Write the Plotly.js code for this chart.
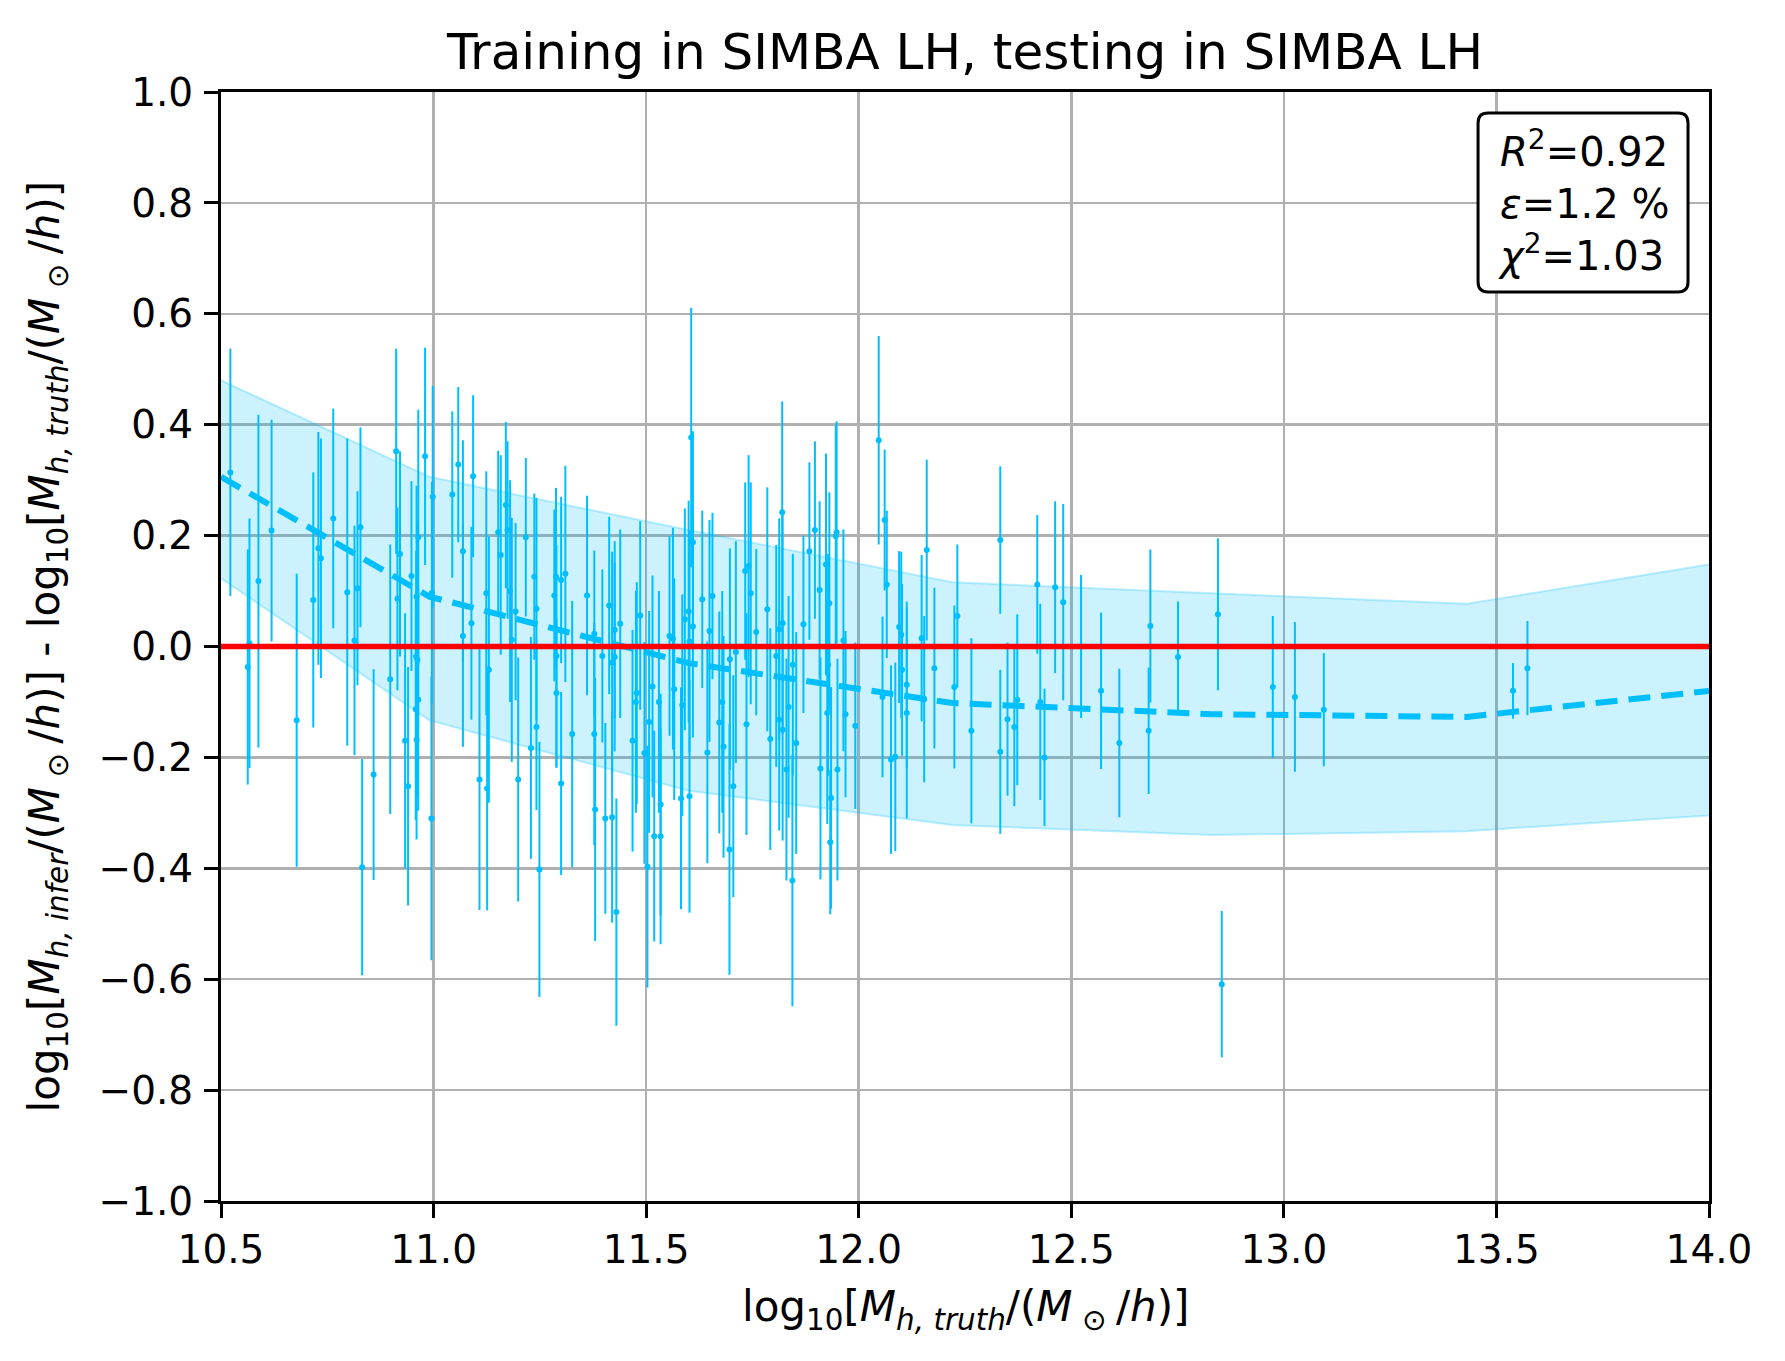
<!DOCTYPE html>
<html>
<head>
<meta charset="utf-8">
<script src="https://cdn.plot.ly/plotly-3.0.1.min.js"></script>
<style>
  html, body { margin: 0; padding: 0; background: #fff; }
  #chart { width: 1785px; height: 1361px; }
</style>
</head>
<body>
<div id="chart"></div>
<script>
// individual halos: truth mass, residual (infer - truth), 1-sigma error
const massTruth = [
  10.522, 10.563, 10.567, 10.588, 10.619, 10.678, 10.717, 10.729, 10.735, 10.764,
  10.797, 10.814, 10.821, 10.828, 10.832, 10.859, 10.898, 10.912, 10.915, 10.921,
  10.933, 10.940, 10.948, 10.959, 10.962, 10.964, 10.960, 10.964, 10.958, 10.960,
  10.980, 10.995, 10.998, 10.996,
  11.044, 11.058, 11.069, 11.069, 11.089, 11.093, 11.108, 11.124, 11.126, 11.130,
  11.152, 11.158, 11.170, 11.174, 11.180, 11.184, 11.193, 11.199, 11.217, 11.229,
  11.237, 11.242, 11.242, 11.249, 11.284, 11.288, 11.289, 11.289, 11.300, 11.310,
  11.300, 11.326, 11.361, 11.378, 11.378, 11.380, 11.397, 11.404, 11.413, 11.420,
  11.420, 11.426, 11.426, 11.430, 11.439, 11.468, 11.476, 11.478, 11.486, 11.496,
  11.503, 11.507, 11.515, 11.519, 11.530, 11.534, 11.534,
  11.555, 11.563, 11.566, 11.582, 11.585, 11.602, 11.606, 11.610, 11.600, 11.591,
  11.610, 11.602, 11.632, 11.649, 11.656, 11.644, 11.672, 11.679, 11.682, 11.696,
  11.697, 11.705, 11.711, 11.733, 11.741, 11.746, 11.736, 11.759, 11.785, 11.792,
  11.806, 11.813, 11.820, 11.821, 11.813, 11.821, 11.830, 11.835, 11.844, 11.845,
  11.853, 11.870, 11.884, 11.897, 11.908, 11.910, 11.923, 11.931, 11.928, 11.926,
  11.935, 11.933, 11.946, 11.948, 11.950, 11.964, 11.969, 11.992,
  12.047, 12.061, 12.066, 12.056, 12.076, 12.086, 12.095, 12.100, 12.102, 12.113,
  12.113, 12.148, 12.154, 12.160, 12.178, 12.225, 12.232, 12.265, 12.333, 12.333,
  12.350, 12.366, 12.373, 12.420, 12.427, 12.437, 12.462, 12.481, 12.523, 12.570,
  12.613, 12.682, 12.686, 12.751, 12.845, 12.854, 12.974, 13.026, 13.094, 13.539,
  13.573
];
const massResidual = [
  0.314, -0.037, 0.006, 0.118, 0.209, -0.133, 0.084, 0.177, 0.159, 0.231,
  0.098, 0.011, 0.105, 0.215, -0.398, -0.231, -0.059, 0.352, 0.086, 0.167,
  -0.170, -0.252, 0.127, -0.018, -0.024, 0.197, 0.090, -0.096, -0.113, -0.168,
  0.343, -0.310, 0.270, 0.097,
  0.274, 0.328, 0.172, 0.019, 0.042, 0.307, -0.240, 0.096, -0.256, -0.042,
  0.206, 0.165, 0.255, 0.210, 0.100, 0.012, 0.063, -0.240, 0.197, -0.183,
  0.126, 0.068, -0.145, -0.402, 0.092, 0.126, -0.017, -0.084, 0.120, 0.131,
  -0.247, -0.158, 0.092, 0.023, -0.158, -0.294, -0.017, -0.310, 0.074, -0.029,
  -0.308, 0.030, -0.019, -0.479, 0.041, -0.170, -0.100, -0.084, 0.056, -0.192,
  -0.397, -0.136, -0.072, -0.342, -0.100, -0.342, -0.285,
  0.019, 0.014, -0.077, -0.274, -0.106, -0.270, 0.377, 0.188, 0.063, 0.049,
  0.036, 0.009, 0.085, 0.028, 0.091, -0.191, -0.137, -0.100, -0.181, -0.366,
  -0.023, -0.252, -0.010, 0.136, 0.145, 0.096, -0.140, 0.026, 0.067, -0.167,
  -0.017, 0.031, 0.242, 0.042, -0.132, -0.150, -0.222, -0.109, -0.422, -0.033,
  -0.174, 0.040, 0.172, 0.210, 0.102, -0.220, 0.148, 0.078, -0.033, -0.120,
  -0.273, -0.353, 0.199, 0.206, -0.222, 0.011, -0.122, -0.143,
  0.372, 0.228, 0.112, -0.091, -0.204, -0.199, 0.035, 0.021, -0.042, -0.069,
  -0.120, 0.015, -0.095, 0.174, -0.039, -0.073, 0.055, -0.152, 0.192, -0.190,
  -0.131, -0.145, -0.096, 0.112, -0.100, -0.200, 0.107, 0.080, 0.000, -0.080,
  -0.174, -0.152, 0.037, -0.019, 0.058, -0.609, -0.073, -0.091, -0.114, -0.080,
  -0.039
];
const residualErr = [
  0.223, 0.212, 0.225, 0.300, 0.200, 0.264, 0.230, 0.210, 0.216, 0.198,
  0.277, 0.207, 0.175, 0.180, 0.195, 0.190, 0.243, 0.185, 0.165, 0.185,
  0.230, 0.215, 0.171, 0.190, 0.250, 0.230, 0.200, 0.200, 0.200, 0.180,
  0.196, 0.256, 0.200, 0.200,
  0.150, 0.140, 0.200, 0.200, 0.174, 0.146, 0.235, 0.220, 0.220, 0.240,
  0.147, 0.180, 0.150, 0.160, 0.200, 0.220, 0.160, 0.220, 0.143, 0.200,
  0.150, 0.200, 0.150, 0.230, 0.155, 0.160, 0.200, 0.135, 0.150, 0.195,
  0.165, 0.240, 0.180, 0.150, 0.200, 0.237, 0.156, 0.172, 0.160, 0.200,
  0.190, 0.160, 0.170, 0.205, 0.170, 0.200, 0.200, 0.200, 0.170, 0.200,
  0.218, 0.200, 0.200, 0.190, 0.200, 0.195, 0.200,
  0.180, 0.200, 0.200, 0.200, 0.200, 0.210, 0.234, 0.200, 0.200, 0.200,
  0.200, 0.200, 0.160, 0.200, 0.150, 0.200, 0.200, 0.200, 0.200, 0.226,
  0.200, 0.200, 0.200, 0.160, 0.200, 0.200, 0.200, 0.150, 0.220, 0.200,
  0.200, 0.200, 0.200, 0.200, 0.200, 0.200, 0.200, 0.200, 0.227, 0.200,
  0.200, 0.160, 0.160, 0.160, 0.160, 0.200, 0.200, 0.200, 0.200, 0.200,
  0.200, 0.130, 0.200, 0.200, 0.200, 0.200, 0.150, 0.150,
  0.188, 0.127, 0.133, 0.145, 0.170, 0.170, 0.137, 0.150, 0.155, 0.150,
  0.190, 0.150, 0.150, 0.163, 0.145, 0.147, 0.129, 0.167, 0.133, 0.148,
  0.138, 0.143, 0.154, 0.125, 0.177, 0.124, 0.155, 0.177, 0.129, 0.141,
  0.134, 0.114, 0.138, 0.100, 0.137, 0.132, 0.128, 0.135, 0.102, 0.050,
  0.085
];

// binned mean and scatter band
const binCenters = [10.5, 10.99, 11.6, 12.22, 12.83, 13.43, 14.0];
const binMean = [0.306, 0.090, -0.030, -0.102, -0.122, -0.127, -0.080];
const binUpper = [0.480, 0.306, 0.210, 0.116, 0.096, 0.077, 0.148];
const binLower = [0.123, -0.133, -0.260, -0.322, -0.340, -0.333, -0.305];

const statLines = ['<i>R</i><sup>2</sup>=0.92', '<i>ε</i>=1.2 %', '<i>χ</i><sup>2</sup>=1.03'];

const xRange = [10.5, 14.0];
const yRange = [-1.0, 1.0];

const sky = '#00bfff';
const font = 'DejaVu Sans, Liberation Sans, sans-serif';

const traces = [
  {
    type: 'scatter', mode: 'lines', x: binCenters, y: binLower,
    line: { color: 'rgba(0,191,255,0.25)', width: 2 },
    hoverinfo: 'skip', showlegend: false
  },
  {
    type: 'scatter', mode: 'lines', x: binCenters, y: binUpper,
    line: { color: 'rgba(0,191,255,0.25)', width: 2 },
    fill: 'tonexty', fillcolor: 'rgba(0,191,255,0.2)',
    hoverinfo: 'skip', showlegend: false
  },
  {
    type: 'scatter', mode: 'markers', x: massTruth, y: massResidual,
    marker: { color: sky, size: 6 },
    error_y: { type: 'data', array: residualErr, visible: true, width: 0, thickness: 2, color: sky },
    showlegend: false
  },
  {
    type: 'scatter', mode: 'lines', x: binCenters, y: binMean,
    line: { color: sky, width: 6, dash: '22px,11px' },
    showlegend: false
  }
];

// rounded stats box, in paper fractions
const bx0 = 0.8448, bx1 = 0.9859, by0 = 0.8197, by1 = 0.981, rx = 0.0067, ry = 0.009;
const boxPath = `M${bx0 + rx},${by1} L${bx1 - rx},${by1} Q${bx1},${by1} ${bx1},${by1 - ry} ` +
  `L${bx1},${by0 + ry} Q${bx1},${by0} ${bx1 - rx},${by0} L${bx0 + rx},${by0} ` +
  `Q${bx0},${by0} ${bx0},${by0 + ry} L${bx0},${by1 - ry} Q${bx0},${by1} ${bx0 + rx},${by1} Z`;

const axisCommon = {
  showline: true, linecolor: '#000', linewidth: 3, mirror: true,
  ticks: 'outside', ticklen: 14, tickwidth: 3, tickcolor: '#000',
  showgrid: true, gridcolor: '#b0b0b0', gridwidth: 2.5,
  zeroline: false, tickfont: { family: font, size: 39, color: '#000' },
  tickformat: '.1f'
};

const layout = {
  width: 1785, height: 1361,
  paper_bgcolor: '#fff', plot_bgcolor: '#fff',
  margin: { l: 221, r: 76, t: 92, b: 160 },
  title: {
    text: 'Training in SIMBA LH, testing in SIMBA LH',
    font: { family: font, size: 50, color: '#000' },
    x: 0.5406, xanchor: 'center', y: 0.9625, yanchor: 'middle', yref: 'container'
  },
  xaxis: Object.assign({}, axisCommon, { range: xRange, dtick: 0.5, tick0: 10.5, ticklabelstandoff: -2 }),
  yaxis: Object.assign({}, axisCommon, { range: yRange, dtick: 0.2, tick0: -1.0, ticklabelstandoff: 3 }),
  shapes: [
    {
      type: 'line', xref: 'paper', yref: 'y', x0: 0, x1: 1, y0: 0, y1: 0,
      line: { color: '#ff0000', width: 5.5 }, layer: 'above'
    },
    {
      type: 'path', xref: 'paper', yref: 'paper', path: boxPath,
      fillcolor: '#fff', line: { color: '#000', width: 3 }, layer: 'above'
    }
  ],
  annotations: [
    {
      xref: 'paper', yref: 'paper', x: 0.5, y: -0.0974, xanchor: 'center', yanchor: 'middle',
      showarrow: false, font: { family: font, size: 42, color: '#000' },
      text: 'log<sub>10</sub>[<i>M</i><sub><i>h, truth</i></sub>/(<i>M</i><sub> ⊙ </sub>/<i>h</i>)]'
    },
    {
      xref: 'paper', yref: 'paper', x: -0.1163, y: 0.5, xanchor: 'center', yanchor: 'middle',
      textangle: -90, showarrow: false, font: { family: font, size: 42, color: '#000' },
      text: 'log<sub>10</sub>[<i>M</i><sub><i>h, infer</i></sub>/(<i>M</i><sub> ⊙ </sub>/<i>h</i>)] - ' +
            'log<sub>10</sub>[<i>M</i><sub><i>h, truth</i></sub>/(<i>M</i><sub> ⊙ </sub>/<i>h</i>)]'
    },
    {
      xref: 'paper', yref: 'paper', x: 0.857, y: 0.902, xanchor: 'left', yanchor: 'middle',
      align: 'left', showarrow: false, font: { family: font, size: 40, color: '#000' },
      text: statLines.join('<br>')
    }
  ]
};

Plotly.newPlot('chart', traces, layout, { displayModeBar: false, staticPlot: true });
</script>
</body>
</html>
